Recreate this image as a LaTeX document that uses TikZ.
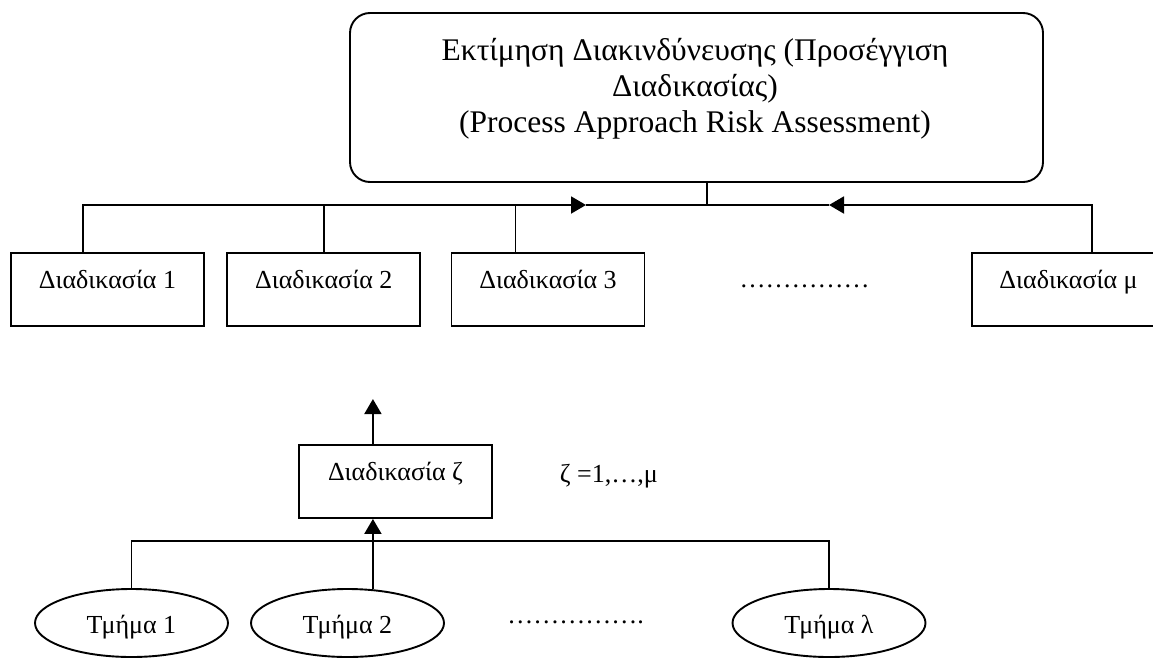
\documentclass[tikz,border=0pt]{standalone}
\usepackage{fontspec}
\setmainfont{Liberation Serif}
\usetikzlibrary{arrows.meta,shapes.geometric,calc}
\begin{document}
\begin{tikzpicture}[x=1pt,y=-1pt,
  line width=1.9pt,
  every node/.style={inner sep=0pt},
  txt/.style={font=\fontsize{26}{30}\selectfont},
  rabox/.style={draw, rounded corners=20pt, minimum width=693pt, minimum height=169pt},
  procbox/.style={txt, draw, rectangle, minimum width=193pt, minimum height=73pt,
    text height=20pt, text depth=22pt},
  unit/.style={txt, draw, ellipse, minimum width=193pt, minimum height=68pt,
    text height=20pt, text depth=0pt},
  flow/.style={-{Triangle[length=15pt,width=17pt]}},
]
\useasboundingbox (0,0) rectangle (1153,659);
\begin{scope}
\clip (0,0) rectangle (1153,659);

% top level: the overall assessment
\node[rabox] (ra) at (696.5,97.5) {};
\node[font=\fontsize{31.5}{36}\selectfont, align=center, anchor=north] (ratext) at (695,37.5)
  {Εκτίμηση Διακινδύνευσης (Προσέγγιση\\Διαδικασίας)\\(Process Approach Risk Assessment)};

% row of processes
\node[procbox] (p1) at (107.5,289.5) {Διαδικασία 1};
\node[procbox] (p2) at (323.75,289.5) {Διαδικασία 2};
\node[procbox] (p3) at (548,289.5) {Διαδικασία 3};
\node[procbox] (pm) at (1068.5,289.5) {Διαδικασία μ};
\node[txt, anchor=base] (pdots) at (804.5,287) {……………};

% collecting bar under the top box
\coordinate (aR) at (586,205);
\coordinate (aL) at (829,205);
\coordinate (s1) at ($(p1.north west)!0.373!(p1.north east)$);
\coordinate (s3) at ($(p3.north west)!0.333!(p3.north east)$);
\coordinate (sm) at ($(pm.north west)!0.622!(pm.north east)$);
\coordinate (s0) at ($(ra.south west)!0.515!(ra.south east)$);
\draw[flow] (s1) |- (aR);
\draw (aR) -- (aL);
\draw[flow] (sm) |- (aL);
\draw (p2.north) -- (p2.north |- aR);
\draw (s3) -- (s3 |- aR);
\draw (s0) -- (s0 |- aR);

% a single process and its departments
\node[procbox] (z) at (395.5,481.5) {Διαδικασία ζ};
\node[txt, anchor=base west] (zr) at (559,482) {ζ =1,…,μ};

\node[unit] (t1) at (131.5,623) {Τμήμα 1};
\node[unit] (t2) at (347.5,623) {Τμήμα 2};
\node[unit] (tl) at (829,623) {Τμήμα λ};
\node[txt, anchor=base] (tdots) at (575.5,623) {…………….};

\draw (t1.north) -- ++(0,-47) -| (tl.north);
\draw[flow] (t2.53) -- (t2.53 |- z.south);
\draw[flow] (t2.53 |- z.north) -- ++(0,-45);
\end{scope}
\end{tikzpicture}
\end{document}
